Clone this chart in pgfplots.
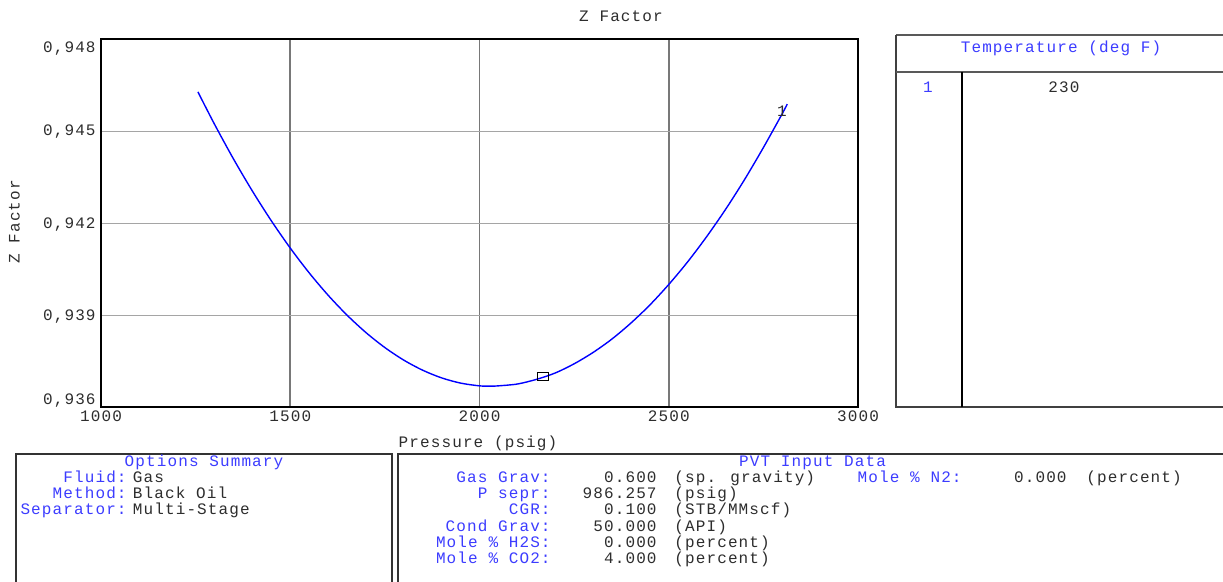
\documentclass[border=0pt]{standalone}
\usepackage{fontspec}
\setmainfont{Liberation Mono}[LetterSpace=7]
\usepackage{pgfplots}
\pgfplotsset{compat=1.18}
\definecolor{lblue}{RGB}{60,60,255}
\definecolor{txt}{RGB}{45,45,45}
\definecolor{vgrid}{RGB}{120,120,120}
\definecolor{hgrid}{RGB}{165,165,165}
\newcommand{\ft}{\fontsize{8}{10}\selectfont}
\begin{document}
\ft
\begin{tikzpicture}[every node/.style={inner sep=0pt,font=\ft}]
\useasboundingbox (0,0) rectangle (611.5pt,291pt);
\begin{axis}[
  at={(50.5pt,87.5pt)}, anchor=south west,
  scale only axis, width=378.5pt, height=183.75pt,
  xmin=1000, xmax=3000, ymin=0.936, ymax=0.948,
  xtick={1000,1500,2000,2500,3000},
  xticklabels={1000,1500,2000,2500,3000},
  ytick={0.936,0.939,0.942,0.945,0.948},
  yticklabels={},
  major tick length=0pt,
  xmajorgrids, ymajorgrids,
  x grid style={vgrid,line width=0.9pt},
  y grid style={hgrid,line width=0.6pt},
  axis line style={black,line width=1pt},
  tick label style={font=\ft,text=txt},
  xticklabel style={anchor=base,inner sep=0pt,yshift=-7.5pt},
  clip=false,
]
\addplot[blue,line width=0.7pt,smooth] coordinates {
(1256,0.94629) (1300,0.94523) (1350,0.94410) (1400,0.94305) (1450,0.94208)
(1500,0.94119) (1550,0.94038) (1600,0.93965) (1650,0.93900) (1700,0.93843)
(1750,0.93794) (1800,0.93753) (1850,0.93720) (1900,0.93695) (1950,0.93678)
(2000,0.93669) (2030,0.93668) (2050,0.93669) (2100,0.93675) (2150,0.93690)
(2200,0.93711) (2250,0.93741) (2300,0.93778) (2350,0.93822) (2400,0.93874)
(2450,0.93933) (2500,0.94000) (2550,0.94074) (2600,0.94156) (2650,0.94245)
(2700,0.94342) (2750,0.94447) (2800,0.94558) (2813,0.94589)
};
\addplot[only marks,mark=square,mark size=2pt,mark options={xscale=1.4,black,line width=0.5pt}] coordinates {(2167,0.93699)};
\node[text=txt] at (axis cs:2799,0.94567) {1};
\end{axis}
\begin{scope}[x=0.5pt,y=-0.5pt,yshift=291pt]
\begin{scope}
\clip (0,0) rectangle (1223,582);
% right table
\draw[draw=black!65,line width=0.6pt] (896,35) -- (1240,35);
\draw[draw=black!75,line width=0.8pt] (896,35) -- (896,407) -- (1240,407);
\draw[draw=black!65,line width=0.6pt] (896,72) -- (1240,72);
\draw[black,line width=1pt] (962,72) -- (962,407);
% bottom boxes
\draw[draw=black!80,line width=0.8pt] (16,600) -- (16,454) -- (392,454) -- (392,600);
\draw[draw=black!80,line width=0.8pt] (398,600) -- (398,454) -- (1240,454);
\end{scope}
% titles and labels
\node[anchor=base,text=txt] at (621,21.5) {Z Factor};
\node[anchor=base,text=txt] at (478,447.5) {Pressure (psig)};
\node[anchor=base,rotate=90,text=txt] at (19.5,222) {Z Factor};
% y tick labels
\node[anchor=base east,text=txt] at (96,52.5) {0,948};
\node[anchor=base east,text=txt] at (96,136) {0,945};
\node[anchor=base east,text=txt] at (96,228.5) {0,942};
\node[anchor=base east,text=txt] at (96,320.5) {0,939};
\node[anchor=base east,text=txt] at (96,404.5) {0,936};
% right table text
\node[anchor=base,text=lblue] at (1061,52.2) {Temperature (deg F)};
\node[anchor=base,text=lblue] at (928,92.8) {1};
\node[anchor=base,text=txt] at (1064,92.8) {230};
% options summary
\node[anchor=base,text=lblue] at (204,467) {Options Summary};
\node[anchor=base east,text=lblue] at (127,482.5) {Fluid:};
\node[anchor=base east,text=lblue] at (127,498.5) {Method:};
\node[anchor=base east,text=lblue] at (127,515) {Separator:};
\node[anchor=base west,text=txt] at (132.5,482.5) {Gas};
\node[anchor=base west,text=txt] at (132.5,498.5) {Black Oil};
\node[anchor=base west,text=txt] at (132.5,515) {Multi-Stage};
% PVT input data
\node[anchor=base,text=lblue] at (812.5,467) {PVT Input Data};
\node[anchor=base east,text=lblue] at (551,482.5) {Gas Grav:};
\node[anchor=base east,text=lblue] at (551,498.5) {P sepr:};
\node[anchor=base east,text=lblue] at (551,515) {CGR:};
\node[anchor=base east,text=lblue] at (551,531.5) {Cond Grav:};
\node[anchor=base east,text=lblue] at (551,547.5) {Mole \% H2S:};
\node[anchor=base east,text=lblue] at (551,563.5) {Mole \% CO2:};
\node[anchor=base east,text=txt] at (657,482.5) {0.600};
\node[anchor=base east,text=txt] at (657,498.5) {986.257};
\node[anchor=base east,text=txt] at (657,515) {0.100};
\node[anchor=base east,text=txt] at (657,531.5) {50.000};
\node[anchor=base east,text=txt] at (657,547.5) {0.000};
\node[anchor=base east,text=txt] at (657,563.5) {4.000};
\node[anchor=base west,text=txt] at (674,482.5) {(sp. gravity)};
\node[anchor=base west,text=txt] at (674,498.5) {(psig)};
\node[anchor=base west,text=txt] at (674,515) {(STB/MMscf)};
\node[anchor=base west,text=txt] at (674,531.5) {(API)};
\node[anchor=base west,text=txt] at (674,547.5) {(percent)};
\node[anchor=base west,text=txt] at (674,563.5) {(percent)};
\node[anchor=base east,text=lblue] at (962,482.5) {Mole \% N2:};
\node[anchor=base east,text=txt] at (1067,482.5) {0.000};
\node[anchor=base west,text=txt] at (1086,482.5) {(percent)};
\end{scope}
\end{tikzpicture}
\end{document}
